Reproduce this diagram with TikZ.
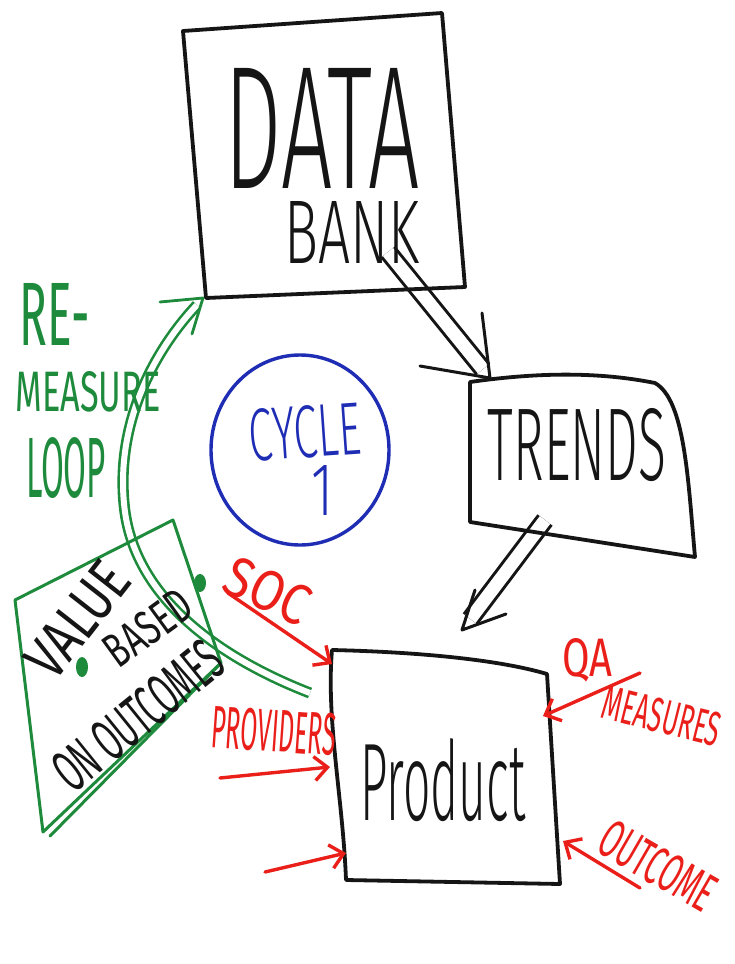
\documentclass[tikz,border=0pt]{standalone}
\usepackage{fontspec}
\setmainfont{Fira Sans Light}
\newfontfamily\markerfont{Fira Sans}
\usetikzlibrary{arrows.meta,calc}
\definecolor{ink}{HTML}{151515}
\definecolor{mgreen}{HTML}{1E8A3C}
\definecolor{mblue}{HTML}{1F2DB5}
\definecolor{mred}{HTML}{EA1F1A}
% text squeezed into a box of given width and height (in pt)
\newcommand\boxtext[3]{\resizebox{#1pt}{#2pt}{#3}}
\tikzset{
  pen/.style={line width=3.8pt, line cap=round, line join=round},
  blackpen/.style={pen, draw=ink},
  greenpen/.style={pen, draw=mgreen, line width=3pt},
  redpen/.style={pen, draw=mred, line width=3.4pt},
  bluepen/.style={pen, draw=mblue, line width=3.4pt},
  label/.style={inner sep=0pt},
  smalllabel/.style={inner sep=0pt, font=\markerfont},
  redarrow/.style={redpen, -{Straight Barb[length=13pt,width=24pt,line width=3.4pt]}},
  hollowshaft/.style={line width=3pt, line cap=butt, double=white, double distance=13pt},
}
\begin{document}
\begin{tikzpicture}[x=1pt,y=-1pt]
\useasboundingbox (0,0) rectangle (734,964);
\fill[white] (0,0) rectangle (734,964);

% ---- hollow arrow: data bank to trends (shaft under the boxes)
\coordinate (dbout) at (388,252);
\coordinate (trin) at (490,378);
\coordinate (trbarbA) at (420,366);
\coordinate (trbarbB) at (482,313);
\draw[hollowshaft, draw=ink] (dbout) -- ($(dbout)!0.93!(trin)$);
\draw[blackpen, line width=3pt] (trbarbA) -- (trin) -- (trbarbB);

% ---- hollow arrow: trends to product
\coordinate (trout) at (545,520);
\coordinate (prin) at (462,630);
\coordinate (prbarbA) at (475,590);
\coordinate (prbarbB) at (506,614);
\draw[hollowshaft, draw=ink] (trout) -- ($(trout)!0.9!(prin)$);
\draw[blackpen, line width=3pt] (prbarbA) -- (prin) -- (prbarbB);

% ---- Data bank box
\coordinate (db1) at (183,31);
\coordinate (db2) at (442,13);
\coordinate (db3) at (465,287);
\coordinate (db4) at (206,298);
\draw[blackpen] (db1) -- (db2) -- (db3) -- (db4) -- cycle;
\node[label, text=ink] (data) at (322,128) {\boxtext{195}{120}{DATA}};
\node[label, text=ink] (bank) at (352,232) {\boxtext{135}{62}{BANK}};

% ---- Trends box
\coordinate (tr1) at (470,382);
\coordinate (tr2) at (655,383);
\coordinate (tr3) at (695,557);
\coordinate (tr4) at (470,522);
\draw[blackpen] (tr1) .. controls (540,372) and (600,372) .. (tr2)
  .. controls (685,400) and (688,480) .. (tr3) -- (tr4) -- cycle;
\node[label, text=ink] (trends) at (577,445) {\boxtext{178}{72}{TRENDS}};

% ---- Product box
\coordinate (pr1) at (332,650);
\coordinate (pr2) at (547,674);
\coordinate (pr3) at (560,884);
\coordinate (pr4) at (346,880);
\draw[blackpen] (pr1) .. controls (420,652) and (500,660) .. (pr2)
  -- (pr3) -- (pr4) .. controls (343,800) and (326,720) .. (pr1);
\node[label, text=ink] (product) at (443,780) {\boxtext{165}{82}{Product}};

% ---- Cycle 1
\draw[bluepen] (300,450) ellipse [x radius=89, y radius=95];
\node[label, text=mblue, rotate=4] (cycle) at (305,432) {\boxtext{112}{52}{CYCLE}};
\node[label, text=mblue] (one) at (322,490) {\boxtext{22}{50}{1}};

% ---- Re-measure loop (drawn before the value box, which shows through it)
\coordinate (loopstart) at (310,693);
\coordinate (looptip) at (203,298);
\coordinate (loopbarbA) at (160,302);
\coordinate (loopbarbB) at (192,334);
\draw[draw=mgreen, line width=2.6pt, line cap=butt, double=white, double distance=6pt]
  (loopstart) .. controls (230,662) and (138,605) .. (125,512)
  .. controls (114,430) and (150,355) .. (197,305);
\draw[greenpen, line width=2.8pt] (loopbarbA) -- (looptip) -- (loopbarbB);
\node[smalllabel, text=mgreen] (re) at (55,314) {\boxtext{70}{62}{RE-}};
\node[smalllabel, text=mgreen] (measure) at (88,392) {\boxtext{145}{40}{MEASURE}};
\node[smalllabel, text=mgreen] (loop) at (66,468) {\boxtext{80}{60}{LOOP}};

% ---- Value based on outcomes box
\coordinate (vb1) at (15,600);
\coordinate (vb2) at (173,520);
\coordinate (vb3) at (221,663);
\coordinate (vb4) at (43,832);
\draw[greenpen] (vb1) -- (vb2) -- (vb3) -- (vb4) -- cycle;
\draw[greenpen] (vb3) -- (50,836);
\node[smalllabel, text=ink, rotate=52] (value) at (78,620) {\boxtext{130}{42}{VALUE}};
\node[smalllabel, text=ink, rotate=36] (based) at (148,628) {\boxtext{96}{34}{BASED}};
\node[smalllabel, text=ink, rotate=39] (outcomes) at (138,716) {\boxtext{200}{42}{ON OUTCOMES}};
\fill[mgreen] (82,667) ellipse [x radius=6, y radius=10];
\fill[mgreen] (200,583) ellipse [x radius=6, y radius=9];

% ---- red inputs into the product box
\node[smalllabel, text=mred, rotate=-25] (soc) at (268,591) {\boxtext{88}{40}{SOC}};
\coordinate (socfrom) at (228,593);
\coordinate (socto) at (332,664);
\draw[redarrow] (socfrom) -- (socto);

\node[smalllabel, text=mred, rotate=-4] (providers) at (274,731) {\boxtext{124}{42}{PROVIDERS}};
\coordinate (provfrom) at (220,778);
\coordinate (provto) at (330,767);
\draw[redarrow] (provfrom) -- (provto);

\coordinate (lowfrom) at (265,872);
\coordinate (lowto) at (346,853);
\draw[redarrow] (lowfrom) -- (lowto);

\node[smalllabel, text=mred] (qa) at (587,660) {\boxtext{50}{38}{QA}};
\node[smalllabel, text=mred, rotate=-14] (measures) at (662,716) {\boxtext{120}{34}{MEASURES}};
\coordinate (qafrom) at (640,673);
\coordinate (qato) at (543,716);
\draw[redarrow] (qafrom) -- (qato);

\node[smalllabel, text=mred, rotate=-30] (outcome) at (658,866) {\boxtext{126}{38}{OUTCOME}};
\coordinate (outfrom) at (640,888);
\coordinate (outto) at (563,841);
\draw[redarrow] (outfrom) -- (outto);
\end{tikzpicture}
\end{document}
